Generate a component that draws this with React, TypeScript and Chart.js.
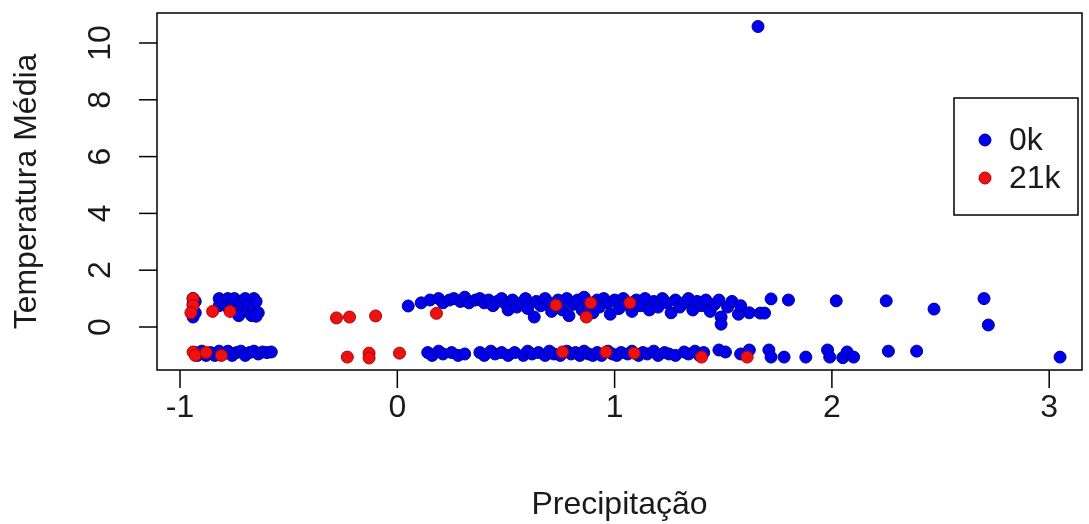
import React, { useEffect, useRef } from "react";
import { Chart, registerables } from "chart.js";

Chart.register(...registerables);

const xTitle = "Precipitação";
const yTitle = "Temperatura Média";
const xTicks = [-1, 0, 1, 2, 3];
const yTicks = [0, 2, 4, 6, 8, 10];
const xRange = [-1.106, 3.151];
const yRange = [-1.514, 11.056];
const legendLabels = ["0k", "21k"];
const seriesColors = ["#0000EE", "#EE1111"];
const seriesBorders = ["#00008B", "#B00000"];

// 0k series (blue)
const pts0k: [number, number][] = [
  // left cluster, upper
  [-0.94, 1.0], [-0.94, 0.8], [-0.94, 0.6], [-0.94, 0.35], [-0.93, 0.9], [-0.93, 0.5],
  [-0.82, 1.0], [-0.82, 0.75], [-0.8, 0.9], [-0.78, 1.0], [-0.78, 0.7], [-0.76, 0.85],
  [-0.75, 1.0], [-0.74, 0.6], [-0.73, 0.4], [-0.72, 0.9], [-0.71, 0.75], [-0.7, 1.0],
  [-0.69, 0.55], [-0.68, 0.85], [-0.67, 0.4], [-0.66, 1.0], [-0.66, 0.7], [-0.65, 0.9],
  [-0.64, 0.5], [-0.65, 0.38],
  // left cluster, lower
  [-0.93, -0.9], [-0.92, -1.0], [-0.9, -0.85], [-0.88, -1.0], [-0.86, -0.9], [-0.84, -1.0],
  [-0.82, -0.85], [-0.8, -0.95], [-0.78, -0.85], [-0.76, -1.0], [-0.74, -0.9], [-0.72, -0.85],
  [-0.7, -1.0], [-0.68, -0.9], [-0.66, -0.85], [-0.64, -0.95], [-0.62, -0.88], [-0.6, -0.9],
  [-0.58, -0.88],
  // upper band
  [0.05, 0.74], [0.11, 0.85], [0.15, 0.95], [0.19, 1.0], [0.21, 0.85], [0.24, 0.95],
  [0.26, 1.0], [0.29, 0.9], [0.31, 1.05], [0.33, 0.85], [0.36, 0.95], [0.38, 1.0],
  [0.4, 0.85], [0.42, 0.95], [0.44, 0.75], [0.46, 0.9], [0.48, 1.0], [0.5, 0.8],
  [0.51, 0.6], [0.53, 0.95], [0.55, 0.7], [0.57, 0.85], [0.59, 1.0], [0.6, 0.65],
  [0.63, 0.35], [0.64, 0.9], [0.66, 0.75], [0.68, 1.0], [0.7, 0.85], [0.71, 0.55],
  [0.74, 0.95], [0.76, 0.6], [0.78, 1.0], [0.79, 0.4], [0.81, 0.8], [0.83, 0.95],
  [0.85, 0.6], [0.86, 1.05], [0.88, 0.75], [0.9, 0.5], [0.92, 0.95], [0.93, 0.7],
  [0.95, 1.0], [0.97, 0.85], [0.98, 0.45], [1.0, 0.95], [1.02, 0.65], [1.04, 1.0],
  [1.05, 0.8], [1.08, 0.55], [1.1, 0.95], [1.12, 0.75], [1.14, 1.0], [1.16, 0.6],
  [1.18, 0.9], [1.2, 0.7], [1.22, 1.0], [1.24, 0.85], [1.26, 0.5], [1.28, 0.95],
  [1.3, 0.7], [1.32, 0.85], [1.34, 1.0], [1.36, 0.6], [1.38, 0.9], [1.4, 0.75],
  [1.42, 0.95], [1.44, 0.55], [1.46, 0.8], [1.48, 0.95], [1.49, 0.35], [1.49, 0.1],
  [1.52, 0.7], [1.54, 0.9], [1.57, 0.45], [1.58, 0.75], [1.62, 0.5], [1.67, 0.49],
  [1.69, 0.49], [1.72, 0.99], [1.8, 0.95], [2.02, 0.92], [2.25, 0.92], [2.47, 0.63],
  [2.7, 1.0], [2.72, 0.07],
  // outlier
  [1.66, 10.58],
  // lower band
  [0.14, -0.9], [0.16, -1.0], [0.19, -0.85], [0.21, -0.95], [0.25, -0.9], [0.28, -1.0],
  [0.31, -0.95], [0.38, -0.9], [0.4, -1.0], [0.43, -0.85], [0.45, -0.95], [0.48, -0.9],
  [0.51, -1.0], [0.54, -0.9], [0.58, -1.0], [0.6, -0.85], [0.62, -0.95], [0.65, -0.9],
  [0.68, -1.0], [0.7, -0.85], [0.72, -0.95], [0.75, -1.0], [0.78, -0.85], [0.8, -0.95],
  [0.82, -0.9], [0.84, -1.0], [0.86, -0.85], [0.88, -0.95], [0.9, -1.0], [0.92, -0.9],
  [0.94, -1.0], [0.97, -0.85], [0.99, -0.95], [1.01, -1.0], [1.03, -0.9], [1.06, -0.95],
  [1.08, -0.85], [1.11, -1.0], [1.13, -0.9], [1.15, -0.95], [1.18, -0.85], [1.2, -1.0],
  [1.23, -0.9], [1.25, -0.95], [1.28, -1.0], [1.32, -0.88], [1.34, -0.95], [1.37, -0.85],
  [1.39, -1.0], [1.41, -0.9], [1.48, -0.81], [1.51, -0.88], [1.58, -0.95], [1.62, -0.81],
  [1.71, -0.81], [1.72, -1.06], [1.78, -1.06], [1.88, -1.06], [1.98, -0.81], [1.99, -1.06],
  [2.05, -1.08], [2.07, -0.88], [2.1, -1.06], [2.26, -0.85], [2.39, -0.85], [3.05, -1.06],
];

// 21k series (red)
const pts21k: [number, number][] = [
  [-0.94, 1.0], [-0.94, 0.75], [-0.95, 0.5], [-0.85, 0.55], [-0.77, 0.55],
  [-0.94, -0.88], [-0.93, -1.0], [-0.88, -0.9], [-0.81, -1.0],
  [-0.28, 0.32], [-0.22, 0.35], [-0.1, 0.39],
  [-0.23, -1.06], [-0.13, -0.92], [-0.13, -1.09], [0.01, -0.92],
  [0.18, 0.48],
  [0.73, 0.77], [0.89, 0.85], [0.87, 0.35], [1.07, 0.85],
  [0.76, -0.88], [0.96, -0.88], [1.09, -0.92], [1.4, -1.06], [1.61, -1.06],
];

const FONT = '32px "Liberation Sans", Arial, sans-serif';

const axesPlugin = {
  id: "rAxes",
  afterDraw(chart: any) {
    const ctx = chart.ctx as CanvasRenderingContext2D;
    const { left, right, top, bottom } = chart.chartArea;
    const xs = chart.scales.x;
    const ys = chart.scales.y;
    ctx.save();
    ctx.strokeStyle = "#000";
    ctx.lineWidth = 1.5;
    ctx.strokeRect(left, top, right - left, bottom - top);
    ctx.fillStyle = "#1a1a1a";
    ctx.font = FONT;
    // x ticks
    ctx.textAlign = "center";
    ctx.textBaseline = "middle";
    for (const t of xTicks) {
      const px = xs.getPixelForValue(t);
      ctx.beginPath();
      ctx.moveTo(px, bottom);
      ctx.lineTo(px, bottom + 18);
      ctx.stroke();
      ctx.fillText(String(t), px, bottom + 38);
    }
    // y ticks (rotated labels)
    for (const t of yTicks) {
      const py = ys.getPixelForValue(t);
      ctx.beginPath();
      ctx.moveTo(left, py);
      ctx.lineTo(left - 18, py);
      ctx.stroke();
      ctx.save();
      ctx.translate(left - 56, py);
      ctx.rotate(-Math.PI / 2);
      ctx.fillText(String(t), 0, 0);
      ctx.restore();
    }
    // titles
    ctx.fillText(xTitle, (left + right) / 2, bottom + 135);
    ctx.save();
    ctx.translate(27, (top + bottom) / 2);
    ctx.rotate(-Math.PI / 2);
    ctx.fillText(yTitle, 0, 0);
    ctx.restore();
    // legend
    const bx = 954, by = 98, bw = 124, bh = 117;
    ctx.fillStyle = "#fff";
    ctx.fillRect(bx, by, bw, bh);
    ctx.strokeRect(bx, by, bw, bh);
    legendLabels.forEach((lab, i) => {
      const cy = by + 42 + i * 38;
      ctx.beginPath();
      ctx.arc(bx + 31, cy, 6, 0, Math.PI * 2);
      ctx.fillStyle = seriesColors[i];
      ctx.fill();
      ctx.lineWidth = 1;
      ctx.strokeStyle = seriesBorders[i];
      ctx.stroke();
      ctx.fillStyle = "#1a1a1a";
      ctx.textAlign = "left";
      ctx.fillText(lab, bx + 55, cy + 1);
    });
    ctx.restore();
  },
};

export default function App() {
  const ref = useRef<HTMLCanvasElement | null>(null);
  useEffect(() => {
    if (!ref.current) return;
    const chart = new Chart(ref.current, {
      type: "scatter",
      data: {
        datasets: [
          {
            label: legendLabels[0],
            data: pts0k.map(([x, y]) => ({ x, y })),
            backgroundColor: seriesColors[0],
            borderColor: seriesBorders[0],
            borderWidth: 1,
            pointRadius: 6,
            order: 2,
          },
          {
            label: legendLabels[1],
            data: pts21k.map(([x, y]) => ({ x, y })),
            backgroundColor: seriesColors[1],
            borderColor: seriesBorders[1],
            borderWidth: 1,
            pointRadius: 6,
            order: 1,
          },
        ],
      },
      options: {
        animation: false,
        responsive: false,
        devicePixelRatio: 1,
        layout: { padding: { left: 157, top: 13, right: 4, bottom: 154 } },
        plugins: { legend: { display: false }, tooltip: { enabled: false } },
        scales: {
          x: { type: "linear", display: false, min: xRange[0], max: xRange[1] },
          y: { type: "linear", display: false, min: yRange[0], max: yRange[1] },
        },
      },
      plugins: [axesPlugin],
    });
    return () => chart.destroy();
  }, []);
  return (
    <div style={{ position: "fixed", left: 0, top: 0, width: 1089, height: 524, background: "#fff" }}>
      <canvas ref={ref} width={1089} height={524} />
    </div>
  );
}
